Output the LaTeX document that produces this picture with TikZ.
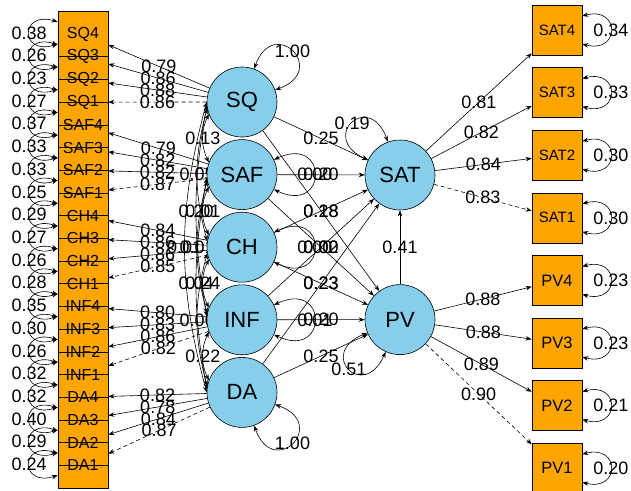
\documentclass[tikz,border=0pt]{standalone}
\usepackage{fontspec}
\setmainfont{Liberation Sans}
\usetikzlibrary{arrows.meta, calc, positioning}

\definecolor{itemorange}{RGB}{255,165,0}
\definecolor{factorblue}{RGB}{135,206,235}

\pgfdeclarelayer{back}
\pgfsetlayers{back,main}

\begin{document}
\begin{tikzpicture}[x=1pt, y=-1pt]

\tikzstyle{item} = [rectangle, draw=black, fill=itemorange, minimum width=50pt, minimum height=45.4pt, inner sep=0pt, line width=.6pt]
\tikzstyle{itemtext} = [inner sep=0pt, font=\fontsize{16}{16}\selectfont]
\tikzstyle{outcome} = [rectangle, draw=black, fill=itemorange, minimum size=50pt, inner sep=0pt, line width=.6pt]
\tikzstyle{factor} = [circle, draw=black, fill=factorblue, minimum size=70pt, inner sep=0pt, line width=.6pt, font=\fontsize{22}{22}\selectfont]
\tikzstyle{arrow} = [line width=.6pt, -{Stealth[length=6pt, width=4.5pt]}]
\tikzstyle{twoway} = [line width=.6pt, {Stealth[length=6pt, width=4.5pt]}-{Stealth[length=6pt, width=4.5pt]}]
\tikzstyle{fixed} = [dash pattern=on 4pt off 3pt]
\tikzstyle{est} = [inner sep=0pt, font=\fontsize{18}{18}\selectfont]

\useasboundingbox (0,0) rectangle (631,490);

% Latent nodes
\node (sq) [factor] at (242,102) {SQ};
\node (saf) [factor, below=2pt of sq] {SAF};
\node (ch) [factor, below=2pt of saf] {CH};
\node (inf) [factor, below=2pt of ch] {INF};
\node (da) [factor, below=2pt of inf] {DA};

\node (sat) [factor] at (400,175) {SAT};
\node (pv) [factor, below=74pt of sat] {PV};

% Item boxes, bottom one first
\foreach \n/\y in {da1/465.3, da2/442.6, da3/419.9, da4/397.2, inf1/374.5, inf2/351.8, inf3/329.1, inf4/306.4, ch1/283.7, ch2/261, ch3/238.3, ch4/215.6, saf1/192.9, saf2/170.2, saf3/147.5, saf4/124.8, sq1/102.1, sq2/79.4, sq3/56.7, sq4/34}
  \node (\n) [item] at (83,\y) {};

\foreach \n/\t in {sq4/SQ4, sq3/SQ3, sq2/SQ2, sq1/SQ1, saf4/SAF4, saf3/SAF3, saf2/SAF2, saf1/SAF1, ch4/CH4, ch3/CH3, ch2/CH2, ch1/CH1, inf4/INF4, inf3/INF3, inf2/INF2, inf1/INF1, da4/DA4, da3/DA3, da2/DA2, da1/DA1}
  \node (\n-t) [itemtext] at (\n) {\t};

% Outcome boxes
\node (sat4) [outcome, font=\fontsize{15}{15}\selectfont] at (557,30) {SAT4};
\node (sat3) [outcome, font=\fontsize{15}{15}\selectfont, below=12pt of sat4] {SAT3};
\node (sat2) [outcome, font=\fontsize{15}{15}\selectfont, below=12pt of sat3] {SAT2};
\node (sat1) [outcome, font=\fontsize{15}{15}\selectfont, below=12pt of sat2] {SAT1};
\node (pv4) [outcome, font=\fontsize{16.5}{16.5}\selectfont, below=12pt of sat1] {PV4};
\node (pv3) [outcome, font=\fontsize{16.5}{16.5}\selectfont, below=12pt of pv4] {PV3};
\node (pv2) [outcome, font=\fontsize{16.5}{16.5}\selectfont, below=12pt of pv3] {PV2};
\node (pv1) [outcome, font=\fontsize{16.5}{16.5}\selectfont, below=12pt of pv2] {PV1};

% Loadings
\foreach \f/\n/\v in {sq/sq4/0.79, sq/sq3/0.86, sq/sq2/0.88, saf/saf4/0.79, saf/saf3/0.82, saf/saf2/0.82, ch/ch4/0.84, ch/ch3/0.86, ch/ch2/0.86, inf/inf4/0.80, inf/inf3/0.83, inf/inf2/0.86, da/da4/0.82, da/da3/0.78, da/da2/0.84, sat/sat4/0.81, sat/sat3/0.82, sat/sat2/0.84, pv/pv4/0.88, pv/pv3/0.88, pv/pv2/0.89}
  \draw[arrow] (\f) -- node[est] {\v} (\n);
\foreach \f/\n/\v in {sq/sq1/0.86, saf/saf1/0.87, ch/ch1/0.85, inf/inf1/0.82, da/da1/0.87, sat/sat1/0.83, pv/pv1/0.90}
  \draw[arrow, fixed] (\f) -- node[est] {\v} (\n);

% Item residuals
\foreach \n/\v in {sq4/0.38, sq3/0.26, sq2/0.23, sq1/0.27, saf4/0.37, saf3/0.33, saf2/0.33, saf1/0.25, ch4/0.29, ch3/0.27, ch2/0.26, ch1/0.28, inf4/0.35, inf3/0.30, inf2/0.26, inf1/0.32, da4/0.32, da3/0.40, da2/0.29, da1/0.24}
  \draw[twoway] ($(\n.west)+(0,-12)$) .. controls +(-38,-12) and +(-38,12) .. ($(\n.west)+(0,10)$) node[est, pos=.5] {\v};
\foreach \n/\v in {sat4/0.34, sat3/0.33, sat2/0.30, sat1/0.30, pv4/0.23, pv3/0.23, pv2/0.21, pv1/0.20}
  \draw[twoway] ($(\n.east)+(0,-14)$) .. controls +(38,-10) and +(38,10) .. ($(\n.east)+(0,14)$) node[est, pos=.5] {\v};

% Regressions
\draw[arrow] (sq) -- node[est] {0.25} (sat);
\draw[arrow] (saf) -- node[est] {0.20} (sat);
\draw[arrow] (ch) -- node[est] {0.18} (sat);
\draw[arrow] (inf) -- node[est] {0.00} (sat);
\draw[arrow] (da) -- node[est] {0.23} (sat);
\draw[arrow] (sq) -- node[est] {0.28} (pv);
\draw[arrow] (saf) -- node[est] {0.02} (pv);
\draw[arrow] (ch) -- node[est] {0.23} (pv);
\draw[arrow] (inf) -- node[est] {0.20} (pv);
\draw[arrow] (da) -- node[est] {0.25} (pv);
\draw[arrow] (pv) -- node[est] {0.41} (sat);

% Variances
\draw[twoway] (sq.70) .. controls +(70:58pt) and +(20:58pt) .. (sq.20) node[est, pos=.5] {1.00};
\draw[twoway] (da.-20) .. controls +(-20:58pt) and +(-70:58pt) .. (da.-70) node[est, pos=.5] {1.00};
\draw[twoway] (saf.25) .. controls +(25:60pt) and +(-25:60pt) .. (saf.-25) node[est, pos=.5] {0.00};
\draw[twoway] (ch.25) .. controls +(25:60pt) and +(-25:60pt) .. (ch.-25) node[est, pos=.5] {0.00};
\draw[twoway] (inf.25) .. controls +(25:60pt) and +(-25:60pt) .. (inf.-25) node[est, pos=.5] {0.01};
\draw[twoway] (sat.155) .. controls +(155:55pt) and +(110:55pt) .. (sat.110) node[est, pos=.5] {0.19};
\draw[twoway] (pv.202) .. controls +(202:55pt) and +(246:55pt) .. (pv.246) node[est, pos=.5] {0.51};

% Covariances, behind the circles
\begin{pgfonlayer}{back}
\draw[twoway] (sq.200) to[bend right=25] node[est] {0.13} (saf.160);
\draw[twoway] (saf.200) to[bend right=25] node[est] {0.01} (ch.160);
\draw[twoway] (ch.200) to[bend right=25] node[est] {0.24} (inf.160);
\draw[twoway] (inf.200) to[bend right=25] node[est] {0.22} (da.160);
\draw[twoway] (sq.190) to[bend right=15] node[est] {0.05} (ch.170);
\draw[twoway] (saf.190) to[bend right=15] node[est] {0.01} (inf.170);
\draw[twoway] (ch.190) to[bend right=15] node[est] {0.06} (da.170);
\draw[twoway] (sq.185) to[bend right=10] node[est] {0.20} (inf.175);
\draw[twoway] (saf.185) to[bend right=10] node[est] {0.04} (da.175);
\draw[twoway] (sq.180) to[bend right=15] node[est] {0.01} (da.180);
\end{pgfonlayer}

\end{tikzpicture}
\end{document}
